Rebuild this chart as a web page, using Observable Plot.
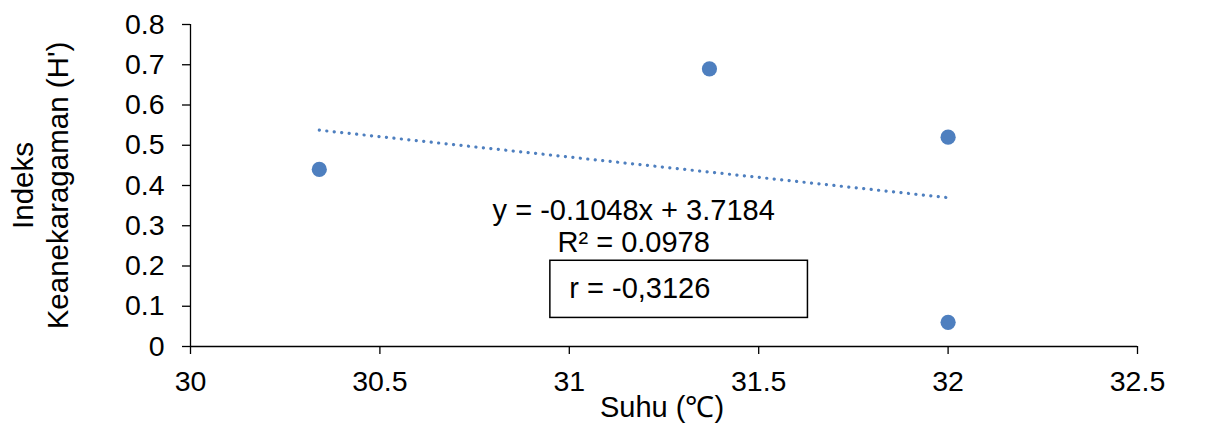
<!DOCTYPE html>
<html>
<head>
<meta charset="utf-8">
<script src="https://cdn.jsdelivr.net/npm/d3@7"></script>
<script src="https://cdn.jsdelivr.net/npm/@observablehq/plot@0.6"></script>
<style>
  html, body { margin: 0; padding: 0; background: #fff; }
</style>
</head>
<body>
<div id="chart"></div>
<script>
// Data
const suhu = [30.34, 31.37, 32.0, 32.0];
const indeks = [0.44, 0.69, 0.52, 0.06];
const xTicks = [30, 30.5, 31, 31.5, 32, 32.5];
const yTicks = [0, 0.1, 0.2, 0.3, 0.4, 0.5, 0.6, 0.7, 0.8];
const xLabel = "Suhu (\u2103)";
const yLabel = "Indeks\nKeanekaragaman (H')";
const eqText = "y = -0.1048x + 3.7184";
const r2Text = "R\u00B2 = 0.0978";
const rText = "r = -0,3126";

const data = suhu.map((x, i) => ({x, y: indeks[i]}));

// Annotation anchors in data units
const eqPos = {x: 31.17, y: 0.338};
const r2Pos = {x: 31.17, y: 0.259};
const boxPos = {x1: 30.95, x2: 31.63, y1: 0.071, y2: 0.213};
const rPos = {x: 31.0, y: 0.143};

const blue = "#4e7fbf";
const fs = 29;
const tfs = 28.5;

const chart = Plot.plot({
  width: 1210,
  height: 430,
  marginLeft: 190,
  marginRight: 73,
  marginTop: 24,
  marginBottom: 84,
  x: {domain: [30, 32.5]},
  y: {domain: [0, 0.8]},
  style: {fontFamily: "'Liberation Sans', Arial, sans-serif", fontSize: fs + "px", color: "#000", background: "#fff"},
  marks: [
    Plot.axisY({ticks: yTicks, tickSize: 8, tickPadding: 18, tickFormat: d => String(d), fontSize: tfs, label: null, strokeWidth: 1.3}),
    Plot.axisX({ticks: xTicks, tickSize: 8, tickPadding: 16, tickFormat: d => String(d), fontSize: tfs, label: null, strokeWidth: 1.3}),
    Plot.ruleX([30], {strokeWidth: 1.3}),
    Plot.ruleY([0], {strokeWidth: 1.3}),
    Plot.linearRegressionY(data, {x: "x", y: "y", ci: 0, stroke: blue, strokeWidth: 3.2, strokeDasharray: "0.1,7.4", strokeLinecap: "round"}),
    Plot.dot(data, {x: "x", y: "y", r: 7.6, fill: blue}),
    Plot.rect([boxPos], {x1: "x1", x2: "x2", y1: "y1", y2: "y2", fill: "none", stroke: "#000", strokeWidth: 1.5}),
    Plot.text([eqPos], {x: "x", y: "y", text: () => eqText, fontSize: fs, fill: "#000"}),
    Plot.text([r2Pos], {x: "x", y: "y", text: () => r2Text, fontSize: fs, fill: "#000"}),
    Plot.text([rPos], {x: "x", y: "y", text: () => rText, fontSize: fs, fill: "#000", textAnchor: "start"}),
    Plot.text([xLabel], {frameAnchor: "bottom", dy: 70, dx: -2, fontSize: fs, fill: "#000"}),
    Plot.text([yLabel], {frameAnchor: "left", rotate: -90, dx: -151.5, lineHeight: 1.2, fontSize: 29.5, fill: "#000", textAnchor: "middle"})
  ]
});
document.getElementById("chart").appendChild(chart);
</script>
</body>
</html>
